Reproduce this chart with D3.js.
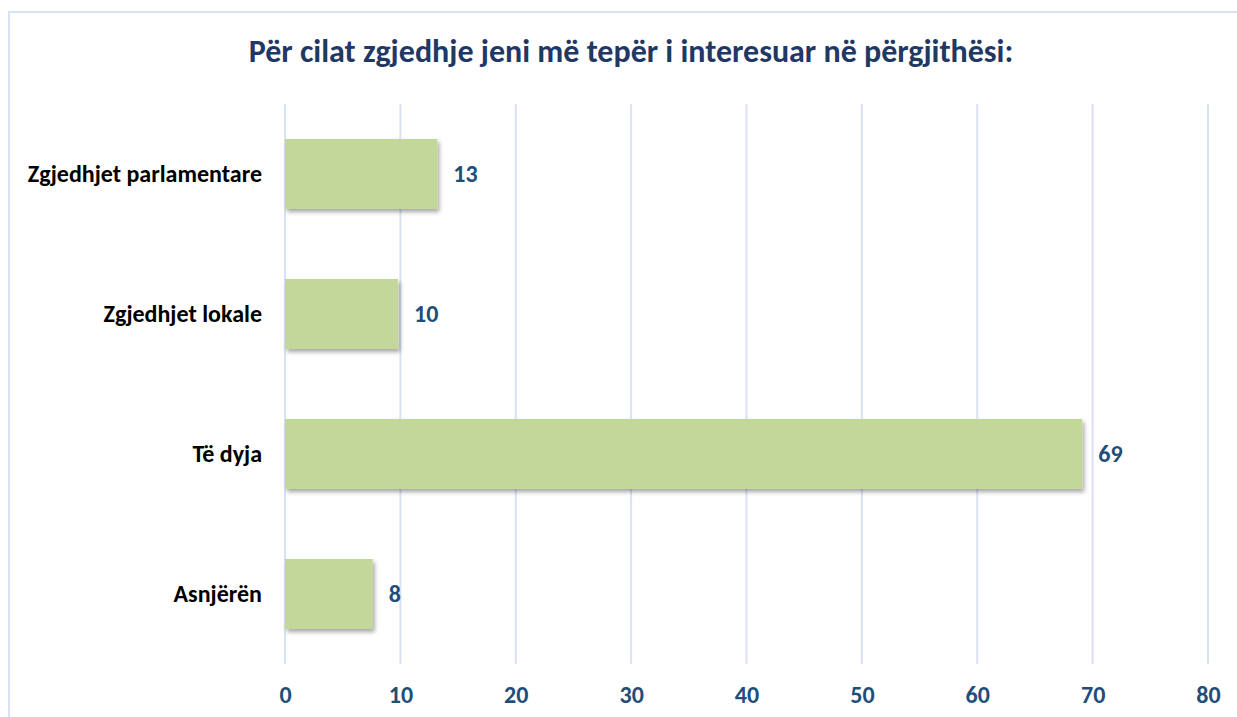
<!DOCTYPE html>
<html><head><meta charset="utf-8">
<script src="https://cdn.jsdelivr.net/npm/d3@7"></script>
<style>body{margin:0;background:#fff}svg{display:block}</style>
</head><body>
<script>
const categories = ["Zgjedhjet parlamentare","Zgjedhjet lokale","Të dyja","Asnjërën"];
const values = [13.2, 9.8, 69.1, 7.6];
const tickValues = [0,10,20,30,40,50,60,70,80];
const title = "Për cilat zgjedhje jeni më tepër i interesuar në përgjithësi:";

const W = 1237, H = 717;
const svg = d3.select("body").append("svg").attr("width", W).attr("height", H);
const defs = svg.append("defs");
const f = defs.append("filter").attr("id","sh").attr("x","-10%").attr("y","-20%").attr("width","130%").attr("height","150%");
f.append("feDropShadow").attr("dx",2).attr("dy",3).attr("stdDeviation",2.2).attr("flood-color","#000").attr("flood-opacity",0.35);

svg.append("rect").attr("x",9).attr("y",12).attr("width",1240).attr("height",720)
  .attr("fill","none").attr("stroke","#D9E2F3").attr("stroke-width",2);

const font = "Carlito, 'Open Sans', 'Liberation Sans', sans-serif";
svg.append("text").attr("x",631).attr("y",62).attr("text-anchor","middle")
  .attr("font-family",font).attr("font-weight","bold").attr("font-size",32)
  .attr("fill","#1F3864").text(title);

const x = d3.scaleLinear().domain([0,80]).range([285,1208]);
const y = d3.scaleBand().domain(categories).range([104,664]).paddingInner(0.5).paddingOuter(0.25);

svg.append("g").selectAll("line").data(tickValues).join("line")
  .attr("x1",d=>x(d)).attr("x2",d=>x(d)).attr("y1",104).attr("y2",664)
  .attr("stroke","#D9E2F3").attr("stroke-width",2);

svg.append("g").selectAll("rect").data(categories).join("rect")
  .attr("x",x(0)).attr("y",d=>y(d)).attr("width",(d,i)=>x(values[i])-x(0))
  .attr("height",y.bandwidth()).attr("fill","#C4D79B").attr("filter","url(#sh)");

svg.append("g").selectAll("text").data(categories).join("text")
  .attr("x",(d,i)=>x(values[i])+16).attr("y",d=>y(d)+y.bandwidth()/2).attr("dy","0.35em")
  .attr("font-family",font).attr("font-weight","bold").attr("font-size",24)
  .attr("fill","#1F4E79").text((d,i)=>Math.round(values[i]));

svg.append("g").selectAll("text").data(categories).join("text")
  .attr("x",262).attr("y",d=>y(d)+y.bandwidth()/2).attr("dy","0.35em").attr("text-anchor","end")
  .attr("font-family",font).attr("font-weight","bold").attr("font-size",24)
  .attr("fill","#000").text(d=>d);

const ax = svg.append("g").attr("transform","translate(0,664)")
  .call(d3.axisBottom(x).tickValues(tickValues).tickSize(0).tickPadding(22));
ax.select(".domain").remove();
ax.selectAll("text").attr("font-family",font).attr("font-weight","bold").attr("font-size",24).attr("fill","#1F4E79");
</script>
</body></html>
